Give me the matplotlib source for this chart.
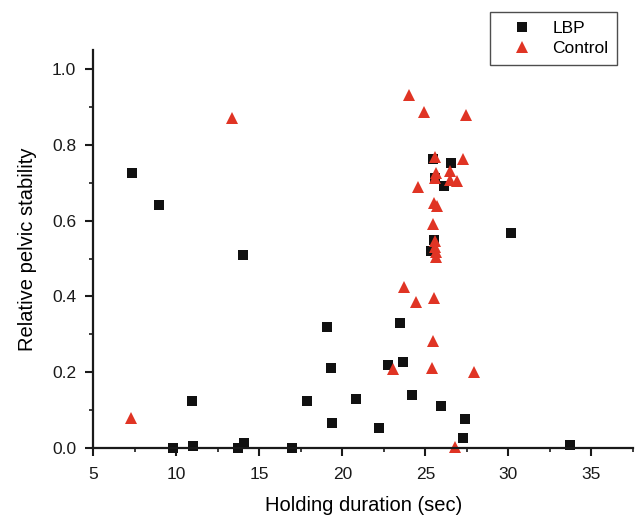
import matplotlib
matplotlib.use("Agg")
import matplotlib.pyplot as plt
from matplotlib.ticker import MultipleLocator

plt.rcParams['font.family'] = ['Liberation Sans', 'DejaVu Sans']

# LBP group (holding duration in sec, relative pelvic stability)
lbp_x = [7.33, 8.97, 13.99, 19.06, 19.3, 10.92, 17.88, 20.8, 19.36,
         9.81, 11.0, 13.72, 14.08, 16.97,
         23.47, 22.77, 23.65, 24.18, 25.96, 27.38, 22.19, 27.26, 33.7,
         25.46, 26.52, 25.56, 26.12, 30.13, 25.5, 25.36]
lbp_y = [0.725, 0.641, 0.509, 0.319, 0.212, 0.123, 0.123, 0.128, 0.067,
         0.0, 0.006, 0.0, 0.012, 0.0,
         0.331, 0.219, 0.228, 0.140, 0.112, 0.077, 0.052, 0.026, 0.008,
         0.764, 0.751, 0.712, 0.692, 0.567, 0.549, 0.521]

# Control group
ctrl_x = [7.27, 13.36,
          23.71, 24.43, 25.54, 25.46, 23.07, 25.4, 27.92, 26.76,
          24.01, 24.91, 27.42, 25.56, 27.26, 25.66, 26.5, 25.6, 26.46,
          26.93, 24.58, 25.5, 25.72, 25.48, 25.56, 25.56, 25.62, 25.66]
ctrl_y = [0.078, 0.870,
          0.426, 0.386, 0.397, 0.282, 0.208, 0.212, 0.200, 0.003,
          0.931, 0.886, 0.880, 0.767, 0.763, 0.725, 0.731, 0.712, 0.707,
          0.704, 0.689, 0.646, 0.638, 0.591, 0.546, 0.531, 0.518, 0.505]

fig = plt.figure(figsize=(6.4, 5.17), dpi=100)
ax = fig.add_axes([0.146, 0.1335, 0.843, 0.7695])

ax.plot(lbp_x, lbp_y, 's', color='#111111', markersize=6.8,
        markeredgewidth=0, clip_on=False, label='LBP')
ax.plot(ctrl_x, ctrl_y, '^', color='#e03424', markersize=9,
        markeredgewidth=0, clip_on=False, label='Control')

ax.set_xlim(5, 37.5)
ax.set_ylim(0, 1.05)
ax.xaxis.set_major_locator(MultipleLocator(5))
ax.xaxis.set_minor_locator(MultipleLocator(2.5))
ax.yaxis.set_minor_locator(MultipleLocator(0.1))
ax.set_yticks([0, 0.2, 0.4, 0.6, 0.8, 1.0])
ax.set_yticklabels(['0.0', '0.2', '0.4', '0.6', '0.8', '1.0'])

for side in ['top', 'right']:
    ax.spines[side].set_visible(False)
for side in ['left', 'bottom']:
    ax.spines[side].set_linewidth(1.6)
    ax.spines[side].set_color('#1a1a1a')

ax.tick_params(which='major', direction='out', length=5.5, width=1.5,
               labelsize=12.5, colors='#1a1a1a', pad=7)
ax.tick_params(axis='x', which='major', pad=8.5)
ax.tick_params(which='minor', direction='out', length=3, width=1.2,
               colors='#1a1a1a')

ax.set_xlabel('Holding duration (sec)', fontsize=14.5, labelpad=10)
ax.set_ylabel('Relative pelvic stability', fontsize=14.5, labelpad=11)

leg = fig.legend(loc='upper right', bbox_to_anchor=(0.964, 0.977),
                 borderaxespad=0, fontsize=12.5, frameon=True, fancybox=False,
                 edgecolor='#222222', handletextpad=0.4, borderpad=0.5,
                 labelspacing=0.3, handlelength=2.7)
leg.get_frame().set_linewidth(1.0)

fig.savefig('out.png', dpi=100)
